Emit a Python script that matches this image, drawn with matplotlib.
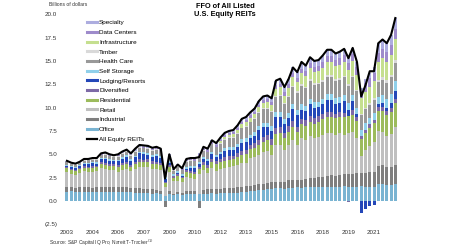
import matplotlib.pyplot as plt
import numpy as np
from matplotlib.lines import Line2D

plt.rcParams['font.family'] = ['Liberation Sans', 'DejaVu Sans']

# quarterly FFO, 2003Q1 - 2022Q2, billions of dollars
all_reits = [4.3, 4.1, 4.0, 4.2, 4.5, 4.5, 4.6, 4.6, 5.1, 5.2, 5.0, 4.9, 5.0, 5.3, 5.5, 5.1,
             5.6, 6.0, 5.95, 5.9, 5.7, 5.8, 5.6, 2.4, 5.0, 3.4, 3.9, 3.5, 4.5, 4.6, 4.6, 4.7,
             5.8, 5.6, 6.5, 6.2, 6.8, 7.3, 7.5, 7.6, 8.1, 8.8, 9.0, 9.5, 9.9, 10.7, 11.2, 11.3,
             11.0, 12.9, 13.1, 12.2, 13.1, 14.3, 13.8, 14.9, 14.5, 15.4, 15.0, 15.1,
             15.6, 16.2, 16.2, 15.8, 16.0, 16.3, 15.3, 16.4, 14.9, 11.2, 12.4, 13.9,
             13.9, 16.9, 17.3, 16.9, 17.8, 19.6]

office = [1.00, 1.02, 0.98, 1.00, 0.98, 0.97, 0.96, 0.97, 0.95, 0.97, 0.95, 0.93,
          0.95, 0.97, 0.98, 0.95, 0.90, 0.85, 0.82, 0.82, 0.80, 0.82, 0.80, 0.55,
          0.78, 0.65, 0.70, 0.62, 0.72, 0.74, 0.75, 0.75, 0.78, 0.80, 0.82, 0.80,
          0.82, 0.84, 0.85, 0.86, 0.90, 0.95, 1.00, 1.05, 1.10, 1.15, 1.20, 1.25,
          1.30, 1.35, 1.35, 1.30, 1.40, 1.42, 1.45, 1.40, 1.45, 1.48, 1.50, 1.50,
          1.52, 1.55, 1.55, 1.50, 1.55, 1.58, 1.55, 1.50, 1.55, 1.60, 1.55, 1.55,
          1.55, 1.85, 1.85, 1.70, 1.70, 1.85]
industrial = [0.45, 0.48, 0.45, 0.50, 0.48, 0.50, 0.48, 0.52, 0.50, 0.52, 0.50, 0.55,
              0.50, 0.55, 0.52, 0.48, 0.52, 0.55, 0.50, 0.48, 0.45, 0.40, 0.30, -0.65,
              0.30, 0.15, 0.28, 0.22, 0.30, 0.30, 0.28, -0.70, 0.40, 0.45, 0.50, 0.45,
              0.50, 0.52, 0.55, 0.50, 0.55, 0.58, 0.60, 0.58, 0.62, 0.65, 0.62, 0.68,
              0.70, 0.72, 0.70, 0.78, 0.80, 0.82, 0.85, 0.88, 0.90, 0.95, 1.00, 1.05,
              1.10, 1.15, 1.18, 1.20, 1.25, 1.28, 1.30, 1.35, 1.40, 1.45, 1.50, 1.55,
              1.60, 1.90, 2.00, 1.95, 1.90, 2.05]
retail = [1.65, 1.40, 1.40, 1.50, 1.70, 1.60, 1.70, 1.70, 2.05, 1.95, 1.85, 1.80,
          1.70, 1.80, 1.95, 1.75, 2.00, 2.25, 2.30, 2.35, 2.20, 2.20, 2.20, 1.00,
          2.00, 1.30, 1.20, 1.15, 1.55, 1.45, 1.35, 2.10, 2.10, 1.70, 2.20, 2.00,
          2.15, 2.20, 2.25, 2.35, 2.45, 2.50, 2.50, 2.95, 3.00, 3.15, 3.40, 3.45,
          2.90, 3.90, 3.95, 3.40, 3.85, 4.30, 3.65, 4.50, 4.20, 4.50, 4.20, 4.35,
          4.50, 4.60, 4.55, 4.40, 4.45, 4.25, 4.40, 4.50, 3.75, 1.80, 2.40, 2.80,
          3.20, 3.80, 3.55, 3.30, 3.60, 4.05]
residential = [0.40, 0.40, 0.38, 0.40, 0.42, 0.42, 0.43, 0.42, 0.45, 0.45, 0.45, 0.45,
               0.48, 0.50, 0.52, 0.50, 0.52, 0.55, 0.55, 0.55, 0.55, 0.55, 0.55, 0.40,
               0.55, 0.40, 0.48, 0.45, 0.50, 0.52, 0.55, 0.58, 0.60, 0.62, 0.65, 0.68,
               0.70, 0.75, 0.78, 0.80, 0.85, 0.90, 0.92, 0.95, 1.00, 1.05, 1.10, 1.10,
               1.15, 1.20, 1.25, 1.25, 1.30, 1.40, 1.40, 1.45, 1.50, 1.55, 1.55, 1.60,
               1.65, 1.70, 1.75, 1.75, 1.80, 1.85, 1.85, 1.90, 1.90, 1.80, 1.85, 1.90,
               1.95, 2.10, 2.20, 2.25, 2.35, 2.50]
diversified = [0.15, 0.15, 0.15, 0.16, 0.17, 0.17, 0.18, 0.18, 0.20, 0.20, 0.20, 0.20,
               0.22, 0.22, 0.23, 0.22, 0.25, 0.25, 0.25, 0.25, 0.25, 0.25, 0.25, 0.10,
               0.22, 0.15, 0.18, 0.16, 0.20, 0.20, 0.22, 0.22, 0.28, 0.25, 0.30, 0.30,
               0.32, 0.35, 0.35, 0.35, 0.40, 0.45, 0.45, 0.50, 0.52, 0.55, 0.58, 0.60,
               0.62, 0.65, 0.65, 0.60, 0.65, 0.65, 0.62, 0.60, 0.60, 0.62, 0.60, 0.58,
               0.58, 0.55, 0.55, 0.52, 0.52, 0.50, -0.10, 0.50, 0.45, 0.30, 0.35, 0.40,
               0.40, 0.45, 0.45, 0.45, 0.45, 0.50]
lodging = [0.15, 0.22, 0.18, 0.15, 0.20, 0.30, 0.28, 0.22, 0.30, 0.40, 0.38, 0.30,
           0.40, 0.50, 0.50, 0.40, 0.50, 0.65, 0.60, 0.50, 0.50, 0.62, 0.55, 0.30,
           0.20, 0.05, 0.20, 0.08, 0.20, 0.35, 0.35, 0.30, 0.35, 0.45, 0.55, 0.45,
           0.50, 0.70, 0.70, 0.60, 0.60, 0.85, 0.85, 0.70, 0.75, 1.05, 1.05, 0.85,
           0.85, 1.20, 1.15, 0.95, 0.90, 1.25, 1.20, 0.95, 0.95, 1.25, 1.15, 0.95,
           1.00, 1.30, 1.20, 1.00, 0.95, 1.25, 0.70, 0.95, 0.30, -1.30, -0.90, -0.55,
           -0.45, 0.25, 0.40, 0.35, 0.50, 0.85]
self_storage = [0.10, 0.10, 0.11, 0.11, 0.12, 0.12, 0.13, 0.13, 0.14, 0.15, 0.15, 0.15,
                0.16, 0.17, 0.18, 0.18, 0.18, 0.19, 0.20, 0.20, 0.20, 0.21, 0.22, 0.20,
                0.20, 0.18, 0.20, 0.20, 0.21, 0.22, 0.23, 0.23, 0.24, 0.25, 0.26, 0.26,
                0.28, 0.30, 0.32, 0.32, 0.34, 0.36, 0.38, 0.38, 0.40, 0.42, 0.45, 0.45,
                0.47, 0.50, 0.52, 0.52, 0.55, 0.57, 0.58, 0.58, 0.58, 0.60, 0.62, 0.60,
                0.60, 0.62, 0.64, 0.62, 0.62, 0.64, 0.65, 0.64, 0.62, 0.62, 0.68, 0.70,
                0.72, 0.80, 0.90, 0.95, 1.00, 1.10]
health_care = [0.25, 0.22, 0.22, 0.24, 0.26, 0.27, 0.28, 0.28, 0.30, 0.32, 0.32, 0.32,
               0.35, 0.35, 0.36, 0.35, 0.38, 0.40, 0.42, 0.42, 0.42, 0.42, 0.44, 0.30,
               0.45, 0.35, 0.42, 0.42, 0.50, 0.52, 0.55, 0.62, 0.65, 0.70, 0.78, 0.80,
               0.85, 0.90, 0.95, 1.00, 1.10, 1.20, 1.25, 1.30, 1.35, 1.40, 1.45, 1.50,
               1.55, 1.65, 1.70, 1.55, 1.70, 1.75, 1.80, 2.00, 1.90, 1.90, 1.85, 1.85,
               1.85, 1.85, 1.90, 1.85, 1.85, 1.90, 1.85, 1.90, 1.80, 1.60, 1.50, 1.40,
               1.40, 1.55, 1.65, 1.70, 1.75, 1.90]
timber = [0.05, 0.05, 0.05, 0.06, 0.06, 0.06, 0.06, 0.07, 0.07, 0.07, 0.07, 0.07,
          0.08, 0.08, 0.08, 0.08, 0.08, 0.08, 0.08, 0.08, 0.08, 0.08, 0.07, 0.06,
          0.06, 0.04, 0.05, 0.05, 0.05, 0.05, 0.05, 0.05, 0.06, 0.06, 0.06, 0.06,
          0.06, 0.07, 0.07, 0.08, 0.08, 0.08, 0.09, 0.10, 0.10, 0.10, 0.11, 0.12,
          0.12, 0.12, 0.12, 0.12, 0.15, 0.18, 0.18, 0.20, 0.18, 0.20, 0.20, 0.20,
          0.20, 0.22, 0.22, 0.20, 0.18, 0.18, 0.18, 0.17, 0.17, 0.16, 0.18, 0.20,
          0.22, 0.28, 0.30, 0.28, 0.30, 0.30]
infrastructure = [0.00, 0.00, 0.00, 0.00, 0.00, 0.00, 0.00, 0.00, 0.00, 0.00, 0.00, 0.00,
                  0.00, 0.00, 0.00, 0.00, 0.00, 0.00, 0.00, 0.00, 0.00, 0.00, 0.00, 0.00,
                  0.00, 0.00, 0.00, 0.00, 0.00, 0.00, 0.00, 0.00, 0.00, 0.00, 0.00, 0.00,
                  0.20, 0.25, 0.28, 0.30, 0.32, 0.35, 0.38, 0.40, 0.45, 0.50, 0.55, 0.58,
                  0.60, 0.75, 0.80, 0.82, 0.85, 0.95, 1.00, 1.10, 1.10, 1.15, 1.15, 1.20,
                  1.30, 1.35, 1.35, 1.40, 1.45, 1.50, 1.50, 1.55, 1.60, 1.65, 1.70, 1.75,
                  1.80, 1.95, 2.00, 2.00, 2.10, 2.20]
data_centers = [0.00, 0.00, 0.00, 0.00, 0.00, 0.00, 0.00, 0.02, 0.02, 0.03, 0.03, 0.03,
                0.04, 0.04, 0.05, 0.05, 0.06, 0.06, 0.07, 0.07, 0.08, 0.08, 0.09, 0.09,
                0.10, 0.08, 0.10, 0.11, 0.12, 0.12, 0.13, 0.13, 0.15, 0.16, 0.17, 0.18,
                0.18, 0.19, 0.20, 0.21, 0.22, 0.24, 0.25, 0.26, 0.27, 0.28, 0.30, 0.32,
                0.33, 0.35, 0.37, 0.40, 0.42, 0.45, 0.48, 0.50, 0.52, 0.55, 0.58, 0.60,
                0.62, 0.65, 0.68, 0.70, 0.72, 0.74, 0.76, 0.78, 0.80, 0.85, 0.88, 0.90,
                0.92, 0.95, 1.00, 1.02, 1.05, 1.10]
specialty = [0.08, 0.08, 0.08, 0.08, 0.10, 0.10, 0.10, 0.10, 0.12, 0.12, 0.12, 0.12,
             0.13, 0.13, 0.14, 0.14, 0.15, 0.15, 0.15, 0.15, 0.15, 0.15, 0.15, 0.10,
             0.15, 0.10, 0.12, 0.12, 0.15, 0.15, 0.15, 0.15, 0.18, 0.18, 0.20, 0.20,
             0.22, 0.22, 0.22, 0.22, 0.30, 0.32, 0.32, 0.34, 0.35, 0.38, 0.40, 0.42,
             0.45, 0.50, 0.52, 0.50, 0.55, 0.58, 0.60, 0.70, 0.60, 0.62, 0.62, 0.62,
             0.65, 0.65, 0.65, 0.65, 0.65, 0.65, 0.65, 0.65, 0.55, 0.30, 0.45, 0.55,
             0.60, 1.00, 1.00, 0.95, 1.10, 1.20]

sectors = ["Office", "Industrial", "Retail", "Residential", "Diversified", "Lodging/Resorts",
           "Self Storage", "Health Care", "Timber", "Infrastructure", "Data Centers", "Specialty"]
sector_values = [office, industrial, retail, residential, diversified, lodging,
                 self_storage, health_care, timber, infrastructure, data_centers, specialty]
colors = ["#7ab4d2", "#7f7f7f", "#bfbfbf", "#9cbb5c", "#7d6aa6", "#2447b8",
          "#90d0ea", "#999999", "#d9d9d9", "#c5df8f", "#9e8bcb", "#adaddf"]

year_labels = ["2003", "2004", "2006", "2007", "2009", "2010", "2012",
               "2013", "2015", "2016", "2018", "2019", "2021"]

fig = plt.figure(figsize=(4.5, 2.5), dpi=100)
ax = fig.add_axes([0.1393, 0.1028, 0.7487, 0.84])

x = np.arange(len(all_reits))
pos_bottom = np.zeros(len(x))
neg_bottom = np.zeros(len(x))
for vals, color in zip(sector_values, colors):
    v = np.array(vals)
    bottom = np.where(v >= 0, pos_bottom, neg_bottom)
    ax.bar(x, v, 0.7, bottom=bottom, color=color, linewidth=0)
    pos_bottom += np.clip(v, 0, None)
    neg_bottom += np.clip(v, None, 0)

ax.plot(x, all_reits, color="black", lw=1.5)

ax.set_xlim(-1.0, 78.0)
ax.set_ylim(-2.5, 20.0)
yt = np.arange(-2.5, 20.01, 2.5)
ax.set_yticks(yt)
ax.set_yticklabels([f"({abs(v):.1f})" if v < 0 else f"{v:.1f}" for v in yt])
ax.set_xticks(x[::6])
ax.set_xticklabels(year_labels)
ax.tick_params(length=0, labelsize=4.5, colors="#333333")
ax.tick_params(axis="y", pad=4)
ax.tick_params(axis="x", pad=4)
for s in ax.spines.values():
    s.set_visible(False)

handles = [Line2D([], [], color=c, lw=2.2) for c in colors[::-1]]
handles.append(Line2D([], [], color="black", lw=1.6))
labels = sectors[::-1] + ["All Equity REITs"]
fig.legend(handles, labels, loc="upper left", bbox_to_anchor=(87 / 450, 1 - 20 / 250),
           frameon=False, fontsize=4.6, handlelength=1.6, handletextpad=0.3,
           labelspacing=0.66, borderpad=0, borderaxespad=0)

fig.text(49 / 450, 1 - 5 / 250, "Billions of dollars", fontsize=3.6, va="center", color="#333333")
fig.text(225 / 450, 1 - 10.3 / 250, "FFO of All Listed\nU.S. Equity REITs", fontsize=5.3,
         fontweight="bold", ha="center", va="center", multialignment="center")
fig.text(49 / 450, 1 - 243 / 250, "Source: S&P Capital IQ Pro, Nareit T-Tracker$^{(1)}$",
         fontsize=3.5, va="center", color="#333333")

fig.savefig("out.png", dpi=100)
